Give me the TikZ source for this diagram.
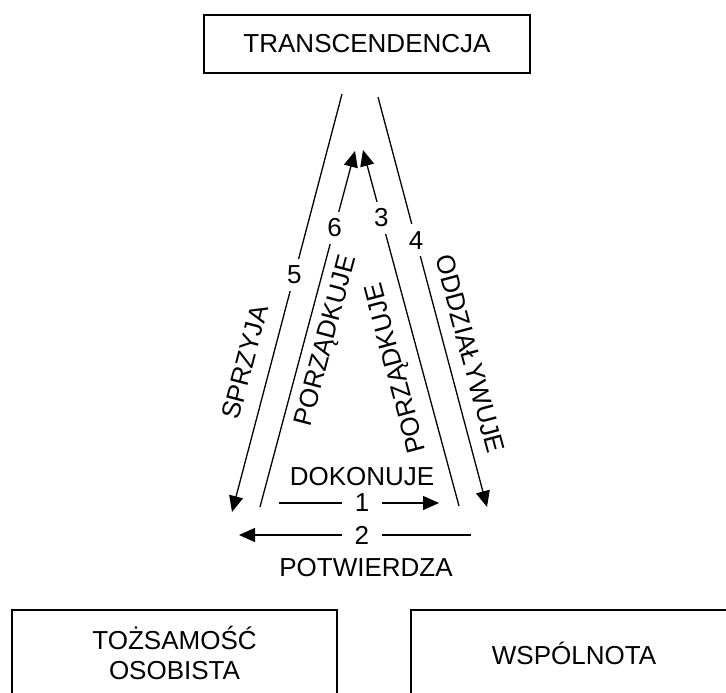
\documentclass[tikz,border=0pt]{standalone}
\usepackage{fontspec}
\setmainfont{Liberation Sans}
\usetikzlibrary{arrows.meta}
\begin{document}
\begin{tikzpicture}[x=1pt,y=-1pt,
  box/.style={draw, line width=1.6pt, inner sep=0pt, font=\fontsize{26}{30}\selectfont, align=center},
  conn/.style={line width=1.3pt, -{Triangle[length=16pt,width=14pt]}},
  lbl/.style={font=\fontsize{26}{30}\selectfont, inner sep=0pt},
  num/.style={font=\fontsize{26}{30}\selectfont, fill=white, inner xsep=13pt, inner ysep=7pt}]
\useasboundingbox (0,0) rectangle (726,693);
\clip (0,0) rectangle (726,693);
\node[box, minimum width=326pt, minimum height=58pt] (T) at (367,44) {TRANSCENDENCJA};
\node[box, minimum width=325pt, minimum height=86pt] (L) at (174.5,653) {TOŻSAMOŚĆ\\OSOBISTA};
\node[box, minimum width=326pt, minimum height=86pt] (W) at (574,653) {WSPÓLNOTA};
\coordinate (s5) at (342,94);  \coordinate (e5) at (232,512);
\coordinate (s6) at (260,507); \coordinate (e6) at (355,151);
\coordinate (s3) at (459,506); \coordinate (e3) at (363,150);
\coordinate (s4) at (378,97);  \coordinate (e4) at (487,507);
\coordinate (s1) at (279,503); \coordinate (e1) at (439,503);
\coordinate (s2) at (471,535); \coordinate (e2) at (239,535);
\draw[conn] (s5) -- node[num,pos=0.433] (n5) {5} (e5);
\draw[conn] (s6) -- node[num,pos=0.784] (n6) {6} (e6);
\draw[conn] (s3) -- node[num,pos=0.809] (n3) {3} (e3);
\draw[conn] (s4) -- node[num,pos=0.349] (n4) {4} (e4);
\draw[conn] (s1) -- node[num,pos=0.52] (n1) {1} (e1);
\draw[conn] (s2) -- node[num,pos=0.47] (n2) {2} (e2);
\node[lbl, rotate=75.3] (tSP) at (245,362) {SPRZYJA};
\node[lbl, rotate=75.1] (tP6) at (327,341) {PORZĄDKUJE};
\node[lbl, rotate=105] (tP3) at (397,368) {PORZĄDKUJE};
\node[lbl, rotate=-75] (tOD) at (470,354) {ODDZIAŁYWUJE};
\node[lbl] (tDK) at (362,477) {DOKONUJE};
\node[lbl] (tPT) at (366,568) {POTWIERDZA};
\end{tikzpicture}
\end{document}
